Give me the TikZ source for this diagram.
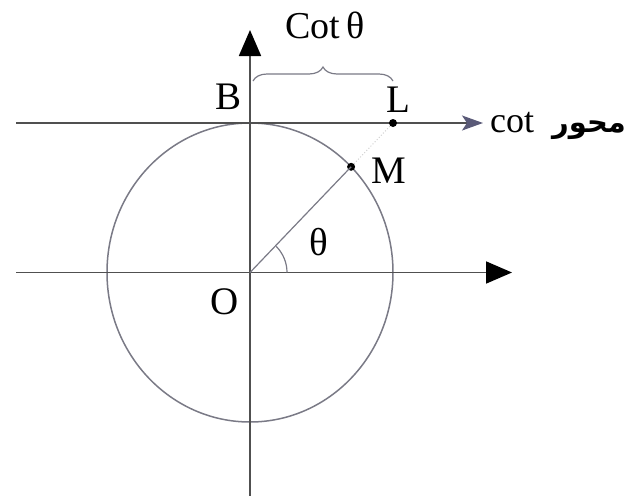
\documentclass[tikz,border=0pt]{standalone}
\usepackage{fontspec}
\setmainfont{Liberation Serif}
\newfontfamily\arabicfont[Script=Arabic]{DejaVu Sans}
\TeXXeTstate=1
\usetikzlibrary{arrows.meta,decorations.pathreplacing}
\definecolor{axisgray}{HTML}{505050}
\definecolor{circgray}{HTML}{7A7A86}
\definecolor{cotarrow}{HTML}{5A5A78}
\begin{document}
\begin{tikzpicture}[x=1pt,y=-1pt,
  axisline/.style={draw=axisgray, line width=1.8pt},
  bigtip/.style={-{Triangle[length=26pt,width=22pt,fill=black,color=black]}},
  circline/.style={draw=circgray, line width=1.5pt},
  thinline/.style={draw=circgray, line width=1.2pt},
  lbl/.style={font=\fontsize{39}{41}\selectfont, inner sep=0pt, text=black},
  dotpt/.style={circle, fill=black, inner sep=0pt, minimum size=8pt}]
\useasboundingbox (0,0) rectangle (641,496);
% coordinates
\coordinate (O) at (250,272.5);
\coordinate (xl) at (16,272.5);
\coordinate (xr) at (512,272.5);
\coordinate (yb) at (250,496);
\coordinate (yt) at (250,30);
\coordinate (cl) at (16,123);
\coordinate (cr) at (483,123);
\coordinate (bl) at (253,81);
\coordinate (br) at (393,81);
\coordinate (arc0) at (287,272.5);
% circle
\draw[circline] (O) ellipse [x radius=143, y radius=149.5];
% axes
\draw[axisline, bigtip] (xl) -- (xr);
\draw[axisline, bigtip] (yb) -- (yt);
\draw[axisline, -{Stealth[length=21pt,width=15pt,inset=5pt,color=cotarrow]}] (cl) -- (cr);
% points
\node[dotpt] (M) at (351.1,166.8) {};
\node[dotpt] (L) at (393,123) {};
% radius and dotted
\draw[thinline] (O) -- (M.center);
\draw[dotted, line width=1pt, gray!35] (M) -- (L);
% angle arc
\draw[thinline] (arc0) arc[start angle=0, end angle=-45, radius=37];
% brace
\draw[thinline, decorate, decoration={brace, amplitude=14pt}] (bl) -- (br);
% labels
\node[lbl] (Blbl) at (229,97) {B};
\node[lbl] (Llbl) at (398,100) {L};
\node[lbl] (Mlbl) at (389,171) {M};
\node[lbl] (Olbl) at (225,302) {O};
\node[lbl] (th) at (319,242) {θ};
\node[lbl, font=\fontsize{38}{40}\selectfont] (cot) at (325,25) {Cot\,θ};
\node[inner sep=0pt, anchor=west] (axisname) at (490,126) {\arabicfont\bfseries\fontsize{29}{31}\selectfont\beginR محور\hspace{18pt}\beginL{\rmfamily\mdseries\fontsize{36}{38}\selectfont cot}\endL\endR};
\end{tikzpicture}
\end{document}
